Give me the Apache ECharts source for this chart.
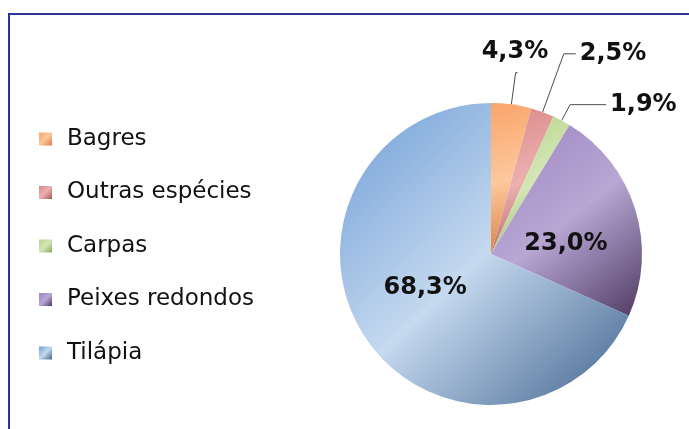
<!DOCTYPE html>
<html>
<head>
<meta charset="utf-8">
<script src="https://cdn.jsdelivr.net/npm/echarts@6/dist/echarts.min.js"></script>
<style>
  html, body { margin: 0; padding: 0; background: #fff; }
  #frame {
    position: absolute; left: 8px; top: 13px; right: 0; bottom: 0;
    border-left: 2px solid #2f3594; border-top: 2px solid #2f3594;
  }
  #main { position: absolute; left: 0; top: 0; width: 689px; height: 429px; }
</style>
</head>
<body>
<div id="frame"></div>
<div id="main"></div>
<script>
const categories = ['Bagres', 'Outras espécies', 'Carpas', 'Peixes redondos', 'Tilápia']
const values = [4.3, 2.5, 1.9, 23.0, 68.3]
// [mid, light, dark] per slice, office-like shading
const shades = [
  ['#f9a56a', '#fcc89d', '#d97b3c'],
  ['#d98886', '#ebb1af', '#a95654'],
  ['#b6d38a', '#d4e7b6', '#88a758'],
  ['#9c86c1', '#b8a6d4', '#4f3b63'],
  ['#6f9ed7', '#c5d9ef', '#42648e'],
]

function shade(c) {
  return new echarts.graphic.LinearGradient(0, 0, 1, 1, [
    { offset: 0, color: c[0] },
    { offset: 0.5, color: c[1] },
    { offset: 1, color: c[2] },
  ])
}

const fmt = v => v.toFixed(1).replace('.', ',') + '%'

// leader lines for the three thin slices, the rest sit inside
const outsideLabels = [
  { length: 32, length2: 2, distanceToLabelLine: -36 },
  { length: 62, length2: 12, distanceToLabelLine: 4 },
  { length: 18, length2: 36, distanceToLabelLine: 4 },
]
const labelShift = { 0: -21, 3: 13, 4: -9 }

const data = categories.map((name, i) => {
  const item = { name, value: values[i], itemStyle: { color: shade(shades[i]) } }
  if (i < 3) {
    const o = outsideLabels[i]
    item.label = { position: 'outside', distanceToLabelLine: o.distanceToLabelLine }
    item.labelLine = { show: true, length: o.length, length2: o.length2 }
  } else {
    item.label = { position: 'inside' }
    item.labelLine = { show: false }
  }
  return item
})

const chart = echarts.init(document.getElementById('main'), null, { renderer: 'canvas' })
chart.setOption({
  animation: false,
  legend: {
    orient: 'vertical',
    left: 39,
    top: 127,
    padding: 0,
    itemWidth: 13,
    itemHeight: 13,
    itemGap: 29.5,
    icon: 'rect',
    selectedMode: false,
    textStyle: {
      fontFamily: 'DejaVu Sans',
      fontSize: 23,
      lineHeight: 24,
      color: '#111',
      padding: [0, 0, 0, 10],
    },
    data: categories,
  },
  series: [
    {
      type: 'pie',
      center: [491, 254],
      radius: 151,
      startAngle: 90,
      clockwise: true,
      avoidLabelOverlap: false,
      emphasis: { disabled: true },
      label: {
        formatter: p => fmt(p.value),
        fontFamily: 'DejaVu Sans',
        fontWeight: 'bold',
        fontSize: 24,
        color: '#111',
      },
      labelLine: {
        lineStyle: { color: '#4d4d4d', width: 1 },
        smooth: false,
      },
      labelLayout: function (params) {
        const dy = labelShift[params.dataIndex]
        return dy ? { dy: dy } : {}
      },
      data: data,
    },
  ],
})
</script>
</body>
</html>
